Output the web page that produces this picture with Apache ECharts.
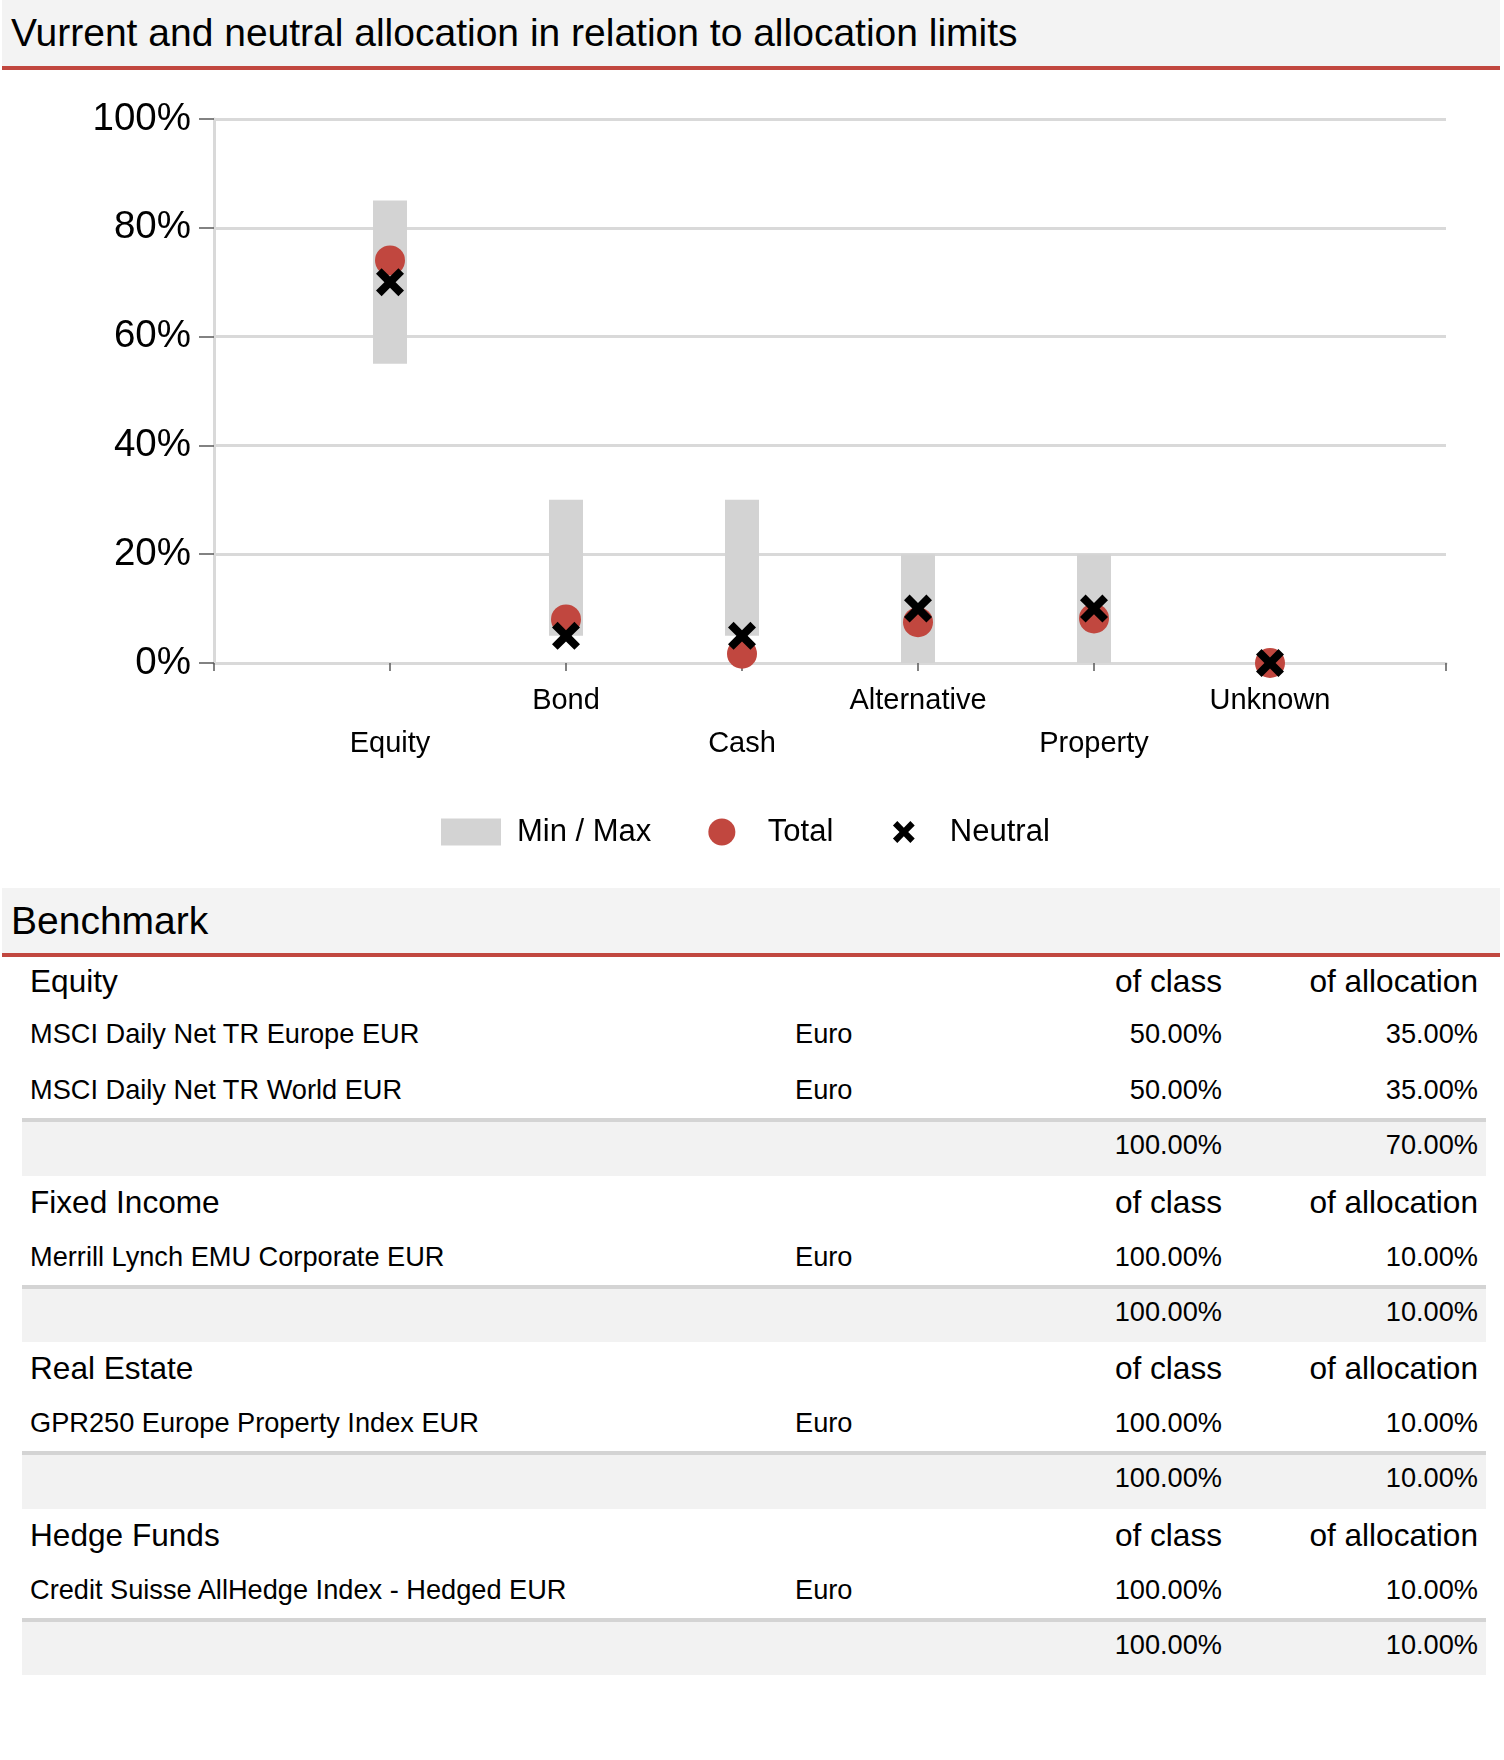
<!DOCTYPE html>
<html>
<head>
<meta charset="utf-8">
<script src="https://cdn.jsdelivr.net/npm/echarts@6.0.0/dist/echarts.min.js"></script>
<style>
  html, body { margin: 0; padding: 0; background: #ffffff; }
  body { width: 1504px; height: 1760px; position: relative; overflow: hidden;
         font-family: 'Liberation Sans', Arial, sans-serif; color: #000; }
  .band { position: absolute; left: 2px; width: 1498px; background: #f3f3f3;
          border-bottom: 4px solid #c1473f;
          font-size: 39px; padding-left: 9px; box-sizing: border-box; white-space: nowrap; }
  #titleBar { top: 0; height: 70px; line-height: 66px; }
  #benchBar { top: 888px; height: 69px; line-height: 65px; }
  #chart { position: absolute; left: 0; top: 70px; width: 1504px; height: 818px; }
  #tbl { position: absolute; left: 22px; top: 957px; width: 1464px; }
  .row { display: flex; align-items: center; white-space: nowrap; }
  .hdr { height: 53px; font-size: 31.6px; }
  .hdr.first { height: 49px; }
  .dat { height: 56px; font-size: 27.2px; }
  .tot { height: 53.5px; font-size: 27.2px; background: #f2f2f2; border-top: 4px solid #d4d4d4;
         align-items: flex-start; line-height: 46px; box-sizing: content-box; }
  .c1 { width: 765px; padding-left: 8px; box-sizing: border-box; }
  .c2 { width: 201px; padding-left: 8px; box-sizing: border-box; }
  .c3 { width: 243px; padding-right: 9px; text-align: right; box-sizing: border-box; }
  .c4 { width: 255px; padding-right: 8px; text-align: right; box-sizing: border-box; }
</style>
</head>
<body>
<div id="titleBar" class="band">Vurrent and neutral allocation in relation to allocation limits</div>
<div id="chart"></div>
<div id="benchBar" class="band">Benchmark</div>
<div id="tbl"></div>
<script>
// ---- Chart data ----
const categories   = ['Equity', 'Bond', 'Cash', 'Alternative', 'Property', 'Unknown'];
const minLimit     = [0.55, 0.05, 0.05, 0.00, 0.00, 0.00];
const maxLimit     = [0.85, 0.30, 0.30, 0.20, 0.20, 0.00];
const totalAlloc   = [0.74, 0.08, 0.017, 0.075, 0.082, 0.00];
const neutralAlloc = [0.70, 0.05, 0.05, 0.10, 0.10, 0.00];
const legendNames  = ['Min / Max', 'Total', 'Neutral'];

// ---- Benchmark table data ----
const benchGroups      = ['Equity', 'Fixed Income', 'Real Estate', 'Hedge Funds'];
const benchIndexNames  = ['MSCI Daily Net TR Europe EUR', 'MSCI Daily Net TR World EUR',
                          'Merrill Lynch EMU Corporate EUR', 'GPR250 Europe Property Index EUR',
                          'Credit Suisse AllHedge Index - Hedged EUR'];
const benchIndexGroup  = [0, 0, 1, 2, 3];
const benchCurrency    = ['Euro', 'Euro', 'Euro', 'Euro', 'Euro'];
const benchOfClass     = ['50.00%', '50.00%', '100.00%', '100.00%', '100.00%'];
const benchOfAlloc     = ['35.00%', '35.00%', '10.00%', '10.00%', '10.00%'];
const groupTotalClass  = ['100.00%', '100.00%', '100.00%', '100.00%'];
const groupTotalAlloc  = ['70.00%', '10.00%', '10.00%', '10.00%'];
const colHeaders       = ['of class', 'of allocation'];

// ---- Build table ----
(function () {
  const tbl = document.getElementById('tbl');
  function row(cls, cells) {
    const r = document.createElement('div');
    r.className = 'row ' + cls;
    ['c1', 'c2', 'c3', 'c4'].forEach((c, k) => {
      const d = document.createElement('div');
      d.className = c;
      d.textContent = cells[k] || '';
      r.appendChild(d);
    });
    tbl.appendChild(r);
  }
  benchGroups.forEach((g, gi) => {
    row('hdr' + (gi === 0 ? ' first' : ''), [g, '', colHeaders[0], colHeaders[1]]);
    benchIndexNames.forEach((n, i) => {
      if (benchIndexGroup[i] === gi) row('dat', [n, benchCurrency[i], benchOfClass[i], benchOfAlloc[i]]);
    });
    row('tot', ['', '', groupTotalClass[gi], groupTotalAlloc[gi]]);
  });
})();

// ---- Chart ----
const FONT = "'Liberation Sans', Arial, sans-serif";
const xPath = 'path://M2,0 L5,3 L8,0 L10,2 L7,5 L10,8 L8,10 L5,7 L2,10 L0,8 L3,5 L0,2 Z';
const xPathLegend = 'path://M-1.2,-1.2 M11.2,11.2 M2,0 L5,3 L8,0 L10,2 L7,5 L10,8 L8,10 L5,7 L2,10 L0,8 L3,5 L0,2 Z';

const chart = echarts.init(document.getElementById('chart'), null, { renderer: 'canvas' });
chart.setOption({
  animation: false,
  backgroundColor: 'transparent',
  textStyle: { fontFamily: FONT },
  grid: { left: 214, top: 49, width: 1232, height: 544, containLabel: false },
  legend: {
    left: 441, top: 744, padding: 0,
    itemWidth: 60, itemHeight: 27, itemGap: 57,
    textStyle: { fontSize: 31, color: '#000', fontFamily: FONT, padding: [0, 0, 0, 11], lineHeight: 36 },
    data: [
      { name: legendNames[0], icon: 'rect', itemStyle: { color: '#d3d3d3' } },
      { name: legendNames[1], icon: 'circle' },
      { name: legendNames[2], icon: xPathLegend }
    ]
  },
  xAxis: {
    type: 'value', min: 0, max: categories.length + 1, interval: 1,
    axisLine: { show: true, lineStyle: { color: '#d9d9d9', width: 3 } },
    axisTick: { show: true, length: 8, lineStyle: { color: '#595959', width: 1.5 } },
    splitLine: { show: false },
    axisLabel: {
      show: true, margin: 16, fontSize: 29, lineHeight: 43, color: '#000', fontFamily: FONT,
      showMinLabel: true, showMaxLabel: true,
      formatter: function (v) {
        const i = Math.round(v) - 1;
        if (i < 0 || i >= categories.length) return '';
        return (i % 2 === 0 ? '\n' : '') + categories[i];
      }
    }
  },
  yAxis: {
    type: 'value', min: 0, max: 1, interval: 0.2,
    axisLine: { show: true, lineStyle: { color: '#d9d9d9', width: 3 } },
    axisTick: { show: true, length: 15, lineStyle: { color: '#595959', width: 1.5 } },
    splitLine: { show: true, lineStyle: { color: '#d9d9d9', width: 3 } },
    axisLabel: {
      margin: 23, fontSize: 38.5, color: '#000', fontFamily: FONT,
      formatter: v => Math.round(v * 100) + '%'
    }
  },
  series: [
    {
      name: legendNames[0], type: 'custom', z: 2,
      itemStyle: { color: '#d3d3d3' },
      encode: { x: 0, y: [1, 2] },
      data: categories.map((c, i) => [i + 1, minLimit[i], maxLimit[i]]),
      renderItem: function (params, api) {
        const x = api.value(0), lo = api.value(1), hi = api.value(2);
        if (!(hi > lo)) return null;
        const top = api.coord([x, hi]);
        const bot = api.coord([x, lo]);
        const w = 34;
        return {
          type: 'rect',
          shape: { x: top[0] - w / 2, y: top[1], width: w, height: bot[1] - top[1] },
          style: { fill: '#d3d3d3' }
        };
      }
    },
    {
      name: legendNames[1], type: 'scatter', z: 3,
      symbol: 'circle', symbolSize: 30,
      itemStyle: { color: '#c1473f', opacity: 1 },
      data: categories.map((c, i) => [i + 1, totalAlloc[i]])
    },
    {
      name: legendNames[2], type: 'scatter', z: 4,
      symbol: xPath, symbolSize: 28,
      itemStyle: { color: '#000000', opacity: 1 },
      data: categories.map((c, i) => [i + 1, neutralAlloc[i]])
    }
  ]
});
</script>
</body>
</html>
